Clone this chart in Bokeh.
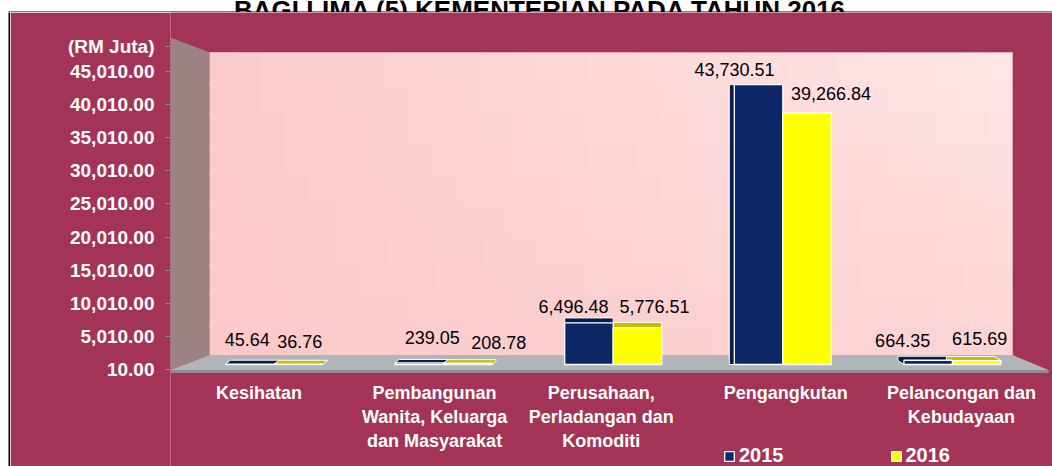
import numpy as np
from bokeh.plotting import figure
from bokeh.models import (Range1d, FixedTicker, NumeralTickFormatter,
                          Legend, LegendItem, ColumnDataSource, Spacer)
from bokeh.layouts import column, row
from bokeh.core.properties import value
from bokeh.embed import file_html
from bokeh.resources import INLINE

# ---------------- data ----------------
title_text = "BAGI LIMA (5) KEMENTERIAN PADA TAHUN 2016"
unit_text = "(RM Juta)"
categories = ["Kesihatan",
              "Pembangunan\nWanita, Keluarga\ndan Masyarakat",
              "Perusahaan,\nPerladangan dan\nKomoditi",
              "Pengangkutan",
              "Pelancongan dan\nKebudayaan"]
series_names = ["2015", "2016"]
values_2015 = [45.64, 239.05, 6496.48, 43730.51, 664.35]
values_2016 = [36.76, 208.78, 5776.51, 39266.84, 615.69]
y_ticks = [10, 5010, 10010, 15010, 20010, 25010, 30010, 35010, 40010, 45010]

# ---------------- style ----------------
MAROON = "#A33457"
NAVY = "#0C2766"
NAVY_DARK = "#081C4C"
YELLOW = "#FFFF00"
YELLOW_DARK = "#C5BE00"
FONT = "Liberation Sans"

# label nudges (px) as placed in the original 3-D chart
lbl_dx = {"2015": [-2.5, 13, -15.5, -24, -25.5], "2016": [1.5, 31, 17, 24, 3]}
lbl_up = {"2015": [24.5, 25.3, 16.1, 14.9, 19.7], "2016": [23, 20.5, 21, 19.9, 21.8]}
cat_dx = [-15, -9, -12, 3, 9]
# 3-D extrusion per category (px right, px up)
depth_dx = [5, 4, 0, -5, -6]
depth_du = [4, 3.5, 5, 0, 4]

PAGE_W = 1052
FX0, FY0 = 10, 12          # page position of main figure
W, H = PAGE_W - FX0, 466 - FY0
X0, XS = 273.5, 169.6      # page px of category 0, px per category
YA0, YAS = 369.3, 0.0066356    # page px of axis value 10, px per unit
YB0, YBS = 364.0, 0.0064       # page px of bar base, px per unit (bar plane)
BAR_W = 48.5 / XS
frame_left = 170


def xr(px):
    return (px - X0) / XS


def ya(py):
    return 10 + (YA0 - py) / YAS


def yb(py):
    return (YB0 - py) / YBS


p = figure(width=W, height=H,
           x_range=Range1d(xr(frame_left), xr(FX0 + W)),
           y_range=Range1d(ya(FY0 + H), ya(FY0)),
           x_axis_location=None, y_axis_location="left",
           toolbar_location=None, output_backend="svg",
           min_border_left=frame_left - FX0, min_border_right=0,
           min_border_top=0, min_border_bottom=0,
           background_fill_color=MAROON, border_fill_color=MAROON,
           outline_line_color=None)
p.extra_y_ranges = {"bars": Range1d(yb(FY0 + H), yb(FY0))}
p.grid.grid_line_color = None

# the unit caption sits in the tick-label column, above the top tick
unit_tick = int(round(ya(45.5)))
ax = p.yaxis[0]
ax.ticker = FixedTicker(ticks=y_ticks + [unit_tick])
ax.formatter = NumeralTickFormatter(format="0,0.00")
ax.major_label_overrides = {unit_tick: unit_text}
ax.axis_line_color = None
ax.major_tick_line_color = "#8A8A8A"
ax.major_tick_out = 5
ax.major_tick_in = 0
ax.minor_tick_line_color = None
ax.major_label_standoff = 11
ax.major_label_text_color = "white"
ax.major_label_text_font = FONT
ax.major_label_text_font_size = "19px"
ax.major_label_text_font_style = "bold"

# ---------------- 3-D walls ----------------
p.patch(x=[xr(170), xr(209), xr(209), xr(170)],
        y=[ya(37), ya(52), ya(354.5), ya(369.5)],
        fill_color="#9C8282", line_color=None)

# back wall with soft gradient
nc, nr = 32, 10
xe = np.linspace(209, 1012, nc + 1)
ye = np.linspace(52, 354.5, nr + 1)
TL = np.array([251, 203, 203]); TR = np.array([255, 230, 230])
BL = np.array([252, 201, 201]); BR = np.array([253, 212, 212])
L, R, B, T, C = [], [], [], [], []
for i in range(nc):
    u = (i + 0.5) / nc
    for j in range(nr):
        v = (j + 0.5) / nr
        c = (TL * (1 - u) * (1 - v) + TR * u * (1 - v) + BL * (1 - u) * v + BR * u * v)
        L.append(xr(xe[i]))
        R.append(xr(min(xe[i + 1] + 2, 1012)))
        T.append(ya(ye[j]))
        B.append(ya(min(ye[j + 1] + 2, 354.5)))
        C.append("#%02x%02x%02x" % tuple(int(round(k)) for k in c))
p.quad(left=L, right=R, bottom=B, top=T, fill_color=C, line_color=None)
p.line(x=[xr(209), xr(1012), xr(1012)], y=[ya(52), ya(52), ya(354.5)],
       line_color="#E3A9B6", line_width=1)

# floor
p.patch(x=[xr(170), xr(209), xr(1012), xr(1048)],
        y=[ya(369.5), ya(354.5), ya(354.5), ya(369.5)],
        fill_color="#B1B4B8", line_color=None)
p.quad(left=xr(170), right=xr(1048), bottom=ya(372.5), top=ya(369.5),
       fill_color="#8B8E93", line_color=None)

# ---------------- bars ----------------
idx = np.arange(len(categories), dtype=float)


def hull(pts):
    pts = sorted(set(pts))
    def cross(o, a, b):
        return (a[0] - o[0]) * (b[1] - o[1]) - (a[1] - o[1]) * (b[0] - o[0])
    lower, upper = [], []
    for q in pts:
        while len(lower) >= 2 and cross(lower[-2], lower[-1], q) <= 0:
            lower.pop()
        lower.append(q)
    for q in reversed(pts):
        while len(upper) >= 2 and cross(upper[-2], upper[-1], q) <= 0:
            upper.pop()
        upper.append(q)
    return lower[:-1] + upper[:-1]


series = [("2015", values_2015, -BAR_W, 0.0, NAVY, NAVY_DARK),
          ("2016", values_2016, 0.0, BAR_W, YELLOW, YELLOW_DARK)]

for name, vals, lo, hi, col, dark in series:
    xs, ys = [], []
    for k, v in enumerate(vals):
        l, r = idx[k] + lo, idx[k] + hi
        ox, oy = depth_dx[k] / XS, depth_du[k] / YBS
        pts = [(l, 0), (r, 0), (r, v), (l, v),
               (l + ox, oy), (r + ox, oy), (r + ox, v + oy), (l + ox, v + oy)]
        h = hull(pts)
        xs.append([q[0] for q in h]); ys.append([q[1] for q in h])
    p.patches(xs=xs, ys=ys, y_range_name="bars", fill_color=dark,
              line_color="white", line_width=1)

fronts = {}
for name, vals, lo, hi, col, dark in series:
    src = ColumnDataSource(dict(left=idx + lo, right=idx + hi,
                                top=vals, bottom=[0] * len(vals)))
    fronts[name] = p.quad(left="left", right="right", top="top", bottom="bottom",
                          source=src, y_range_name="bars", fill_color=col,
                          line_color="white", line_width=1.3)

# value labels
for name, vals, lo, hi, col, dark in series:
    xc = idx + (lo + hi) / 2 + np.array(lbl_dx[name]) / XS
    yc = np.array(vals) + np.array(lbl_up[name]) / YBS
    p.text(x=xc, y=yc, text=["{:,.2f}".format(v) for v in vals],
           y_range_name="bars", text_align="center", text_baseline="middle",
           text_font=value(FONT), text_font_size="18px", text_color="black")

# category labels
p.text(x=idx + np.array(cat_dx) / XS, y=[ya(382.6)] * len(categories), text=categories,
       text_align="center", text_baseline="top", text_font=value(FONT),
       text_font_size="18px", text_font_style="bold", text_color="white",
       text_line_height=1.2)

legend = Legend(items=[LegendItem(label=n, renderers=[fronts[n]]) for n in series_names],
                location=(723 - frame_left, -1), orientation="horizontal",
                glyph_width=12, glyph_height=12, label_standoff=4, spacing=106,
                padding=0, margin=0, background_fill_alpha=0, border_line_alpha=0,
                label_text_color="white", label_text_font=FONT,
                label_text_font_size="20px", label_text_font_style="bold")
p.add_layout(legend)

# ---------------- title strip (cut at the top, as in the source) ----------------
t = figure(width=PAGE_W, height=FY0, x_range=Range1d(0, PAGE_W), y_range=Range1d(0, FY0),
           x_axis_location=None, y_axis_location=None, toolbar_location=None,
           output_backend="svg", min_border=0, background_fill_color="white",
           border_fill_color="white", outline_line_color=None)
t.grid.grid_line_color = None
t.text(x=[540], y=[2.5], text=[title_text], text_align="center",
       text_baseline="alphabetic", text_font=value(FONT), text_font_size="26px",
       text_font_style="bold", text_color="black")
t.quad(left=[8], right=[PAGE_W], bottom=[0], top=[1], fill_color="black", line_color=None)

# thin black frame edge on the left of the maroon panel
edge = figure(width=2, height=H, x_range=Range1d(0, 1), y_range=Range1d(0, 1),
              x_axis_location=None, y_axis_location=None, toolbar_location=None,
              output_backend="svg", min_border=0, background_fill_color="black",
              border_fill_color="black", outline_line_color=None)
edge.grid.grid_line_color = None

layout = column(t, row(Spacer(width=8, height=H), edge, p, spacing=0), spacing=0)
open("out.html", "w").write(file_html(layout, INLINE))
